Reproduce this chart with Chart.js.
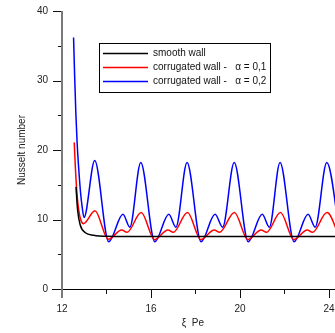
<!DOCTYPE html>
<html>
<head>
<meta charset="utf-8">
<script src="https://cdn.jsdelivr.net/npm/chart.js@4/dist/chart.umd.min.js"></script>
<style>
html,body{margin:0;padding:0;background:#fff;}
canvas{display:block;}
</style>
</head>
<body>
<canvas id="c" width="335" height="333"></canvas>
<script>
// ---- data ----
const seriesNames = ['smooth wall', 'corrugated wall -   \u03b1 = 0,1', 'corrugated wall -   \u03b1 = 0,2'];
const seriesColors = ['#000000', '#ff0000', '#0000ff'];

const smoothX = [12.63, 12.70, 12.82, 13.05, 13.42, 14.0, 16.0, 24.6];
const smoothY = [14.7, 11.4, 9.2, 8.1, 7.75, 7.6, 7.55, 7.55];

const alpha1X = [12.55, 12.60, 12.67, 12.75, 12.85, 12.97, 13.48, 14.08, 14.68, 14.92, 15.56, 16.16, 16.76, 17.00, 17.64, 18.24, 18.84, 19.08, 19.75, 20.35, 20.95, 21.19, 21.82, 22.42, 23.02, 23.26, 23.91, 24.51];
const alpha1Y = [21.1, 17.6, 13.8, 11.4, 9.9, 9.4, 11.25, 7.15, 8.5, 8.15, 11.0, 7.1, 8.5, 8.15, 11.0, 7.1, 8.5, 8.15, 11.0, 7.1, 8.5, 8.15, 11.0, 7.1, 8.5, 8.15, 11.0, 7.1];

const alpha2X = [12.52, 12.57, 12.62, 12.68, 12.75, 12.83, 12.91, 12.99, 13.47, 14.10, 14.74, 15.05, 15.54, 16.17, 16.80, 17.12, 17.62, 18.25, 18.88, 19.22, 19.74, 20.37, 21.00, 21.32, 21.80, 22.43, 23.06, 23.38, 23.90, 24.53];
const alpha2Y = [36.2, 30.5, 25.5, 21.0, 17.4, 14.0, 11.7, 10.3, 18.5, 6.8, 10.75, 8.9, 18.2, 6.8, 10.75, 8.9, 18.2, 6.8, 10.75, 8.9, 18.2, 6.8, 10.75, 8.9, 18.2, 6.8, 10.75, 8.9, 18.2, 6.8];

const xTickValues = [12, 14, 16, 18, 20, 22, 24];
const xLabelValues = [12, 16, 20, 24];
const yTickValues = [0, 5, 10, 15, 20, 25, 30, 35, 40];
const yLabelValues = [0, 10, 20, 30, 40];
const xTitle = '\u03be  Pe    ';
const yTitle = 'Nusselt number';

// ---- build ----
const toPts = (xs, ys) => xs.map((x, i) => ({x: x, y: ys[i]}));
const seriesData = [toPts(smoothX, smoothY), toPts(alpha1X, alpha1Y), toPts(alpha2X, alpha2Y)];

Chart.defaults.font.family = "'Liberation Sans', Arial, Helvetica, sans-serif";
Chart.defaults.font.size = 10;
Chart.defaults.color = '#222';

const axesPlugin = {
  id: 'axesPlugin',
  afterDraw(chart) {
    const ctx = chart.ctx;
    const xs = chart.scales.x, ys = chart.scales.y;
    const x0 = xs.getPixelForValue(12);
    const y0 = ys.getPixelForValue(0);
    const yTop = ys.getPixelForValue(40);
    ctx.save();
    // x axis line
    ctx.fillStyle = '#000';
    ctx.fillRect(52, Math.round(y0), chart.width - 52, 1);
    // y ticks
    yTickValues.forEach(v => {
      const p = Math.round(ys.getPixelForValue(v));
      const len = yLabelValues.includes(v) ? 9 : 4;
      ctx.fillStyle = '#111';
      ctx.fillRect(Math.round(x0) - len, p, len, 1);
    });
    // x ticks
    xTickValues.forEach(v => {
      if (v === 12) return;
      const p = Math.round(xs.getPixelForValue(v));
      const len = xLabelValues.includes(v) ? 9 : 5;
      ctx.fillStyle = '#111';
      ctx.fillRect(p, Math.round(y0), 1, len);
    });
    // y axis line (grey)
    ctx.fillStyle = '#7a7a7a';
    ctx.fillRect(Math.round(x0) - 1, Math.round(yTop), 2, Math.round(y0) + 9 - Math.round(yTop));
    // legend
    const bx = 99, by = 43, bw = 171, bh = 49;
    ctx.fillStyle = '#fff';
    ctx.fillRect(bx, by, bw, bh);
    ctx.strokeStyle = '#000';
    ctx.lineWidth = 1;
    ctx.strokeRect(bx + 0.5, by + 0.5, bw, bh);
    ctx.font = "10px 'Liberation Sans', Arial, sans-serif";
    ctx.textBaseline = 'middle';
    ctx.textAlign = 'left';
    chart.data.datasets.forEach((ds, i) => {
      const ry = 53 + i * 14;
      ctx.strokeStyle = ds.borderColor;
      ctx.lineWidth = 1.5;
      ctx.beginPath();
      ctx.moveTo(103, ry + 0.5);
      ctx.lineTo(148, ry + 0.5);
      ctx.stroke();
      ctx.fillStyle = '#111';
      ctx.fillText(ds.label, 153, ry + 0.5);
    });
    ctx.restore();
  }
};

new Chart(document.getElementById('c'), {
  type: 'line',
  data: {
    datasets: seriesNames.map((name, i) => ({
      label: name,
      data: seriesData[i],
      borderColor: seriesColors[i],
      backgroundColor: seriesColors[i],
      borderWidth: 1.5,
      pointRadius: 0,
      fill: false,
      cubicInterpolationMode: 'monotone'
    }))
  },
  options: {
    responsive: false,
    devicePixelRatio: 1,
    animation: false,
    layout: {padding: {top: 11, right: 0, bottom: 0, left: 0}},
    plugins: {legend: {display: false}, tooltip: {enabled: false}},
    scales: {
      x: {
        type: 'linear',
        min: 12,
        max: 24.27,
        afterBuildTicks: s => { s.ticks = xTickValues.map(v => ({value: v})); },
        afterFit: s => { s.height = 44; s.paddingLeft = 0; s.paddingRight = 0; },
        grid: {display: true, drawOnChartArea: false, drawTicks: true, tickLength: 9, color: 'rgba(0,0,0,0)', tickColor: 'rgba(0,0,0,0)'},
        border: {display: false},
        ticks: {autoSkip: false, maxRotation: 0, padding: 5, callback: v => xLabelValues.includes(v) ? String(v) : ''},
        title: {display: true, text: xTitle, padding: {top: 0, bottom: 4}, font: {size: 10}}
      },
      y: {
        type: 'linear',
        min: 0,
        max: 40,
        afterBuildTicks: s => { s.ticks = yTickValues.map(v => ({value: v})); },
        afterFit: s => { s.width = 62; s.paddingTop = 0; s.paddingBottom = 0; },
        grid: {display: true, drawOnChartArea: false, drawTicks: true, tickLength: 9, color: 'rgba(0,0,0,0)', tickColor: 'rgba(0,0,0,0)'},
        border: {display: false},
        ticks: {autoSkip: false, padding: 5, callback: v => yLabelValues.includes(v) ? String(v) : ''},
        title: {display: true, text: yTitle, padding: {top: 16, bottom: 0}, font: {size: 10}}
      }
    }
  },
  plugins: [axesPlugin]
});
</script>
</body>
</html>
